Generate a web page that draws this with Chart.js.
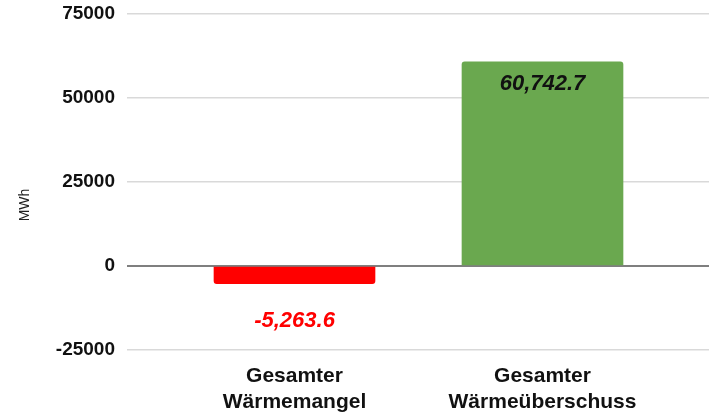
<!DOCTYPE html>
<html lang="de">
<head>
<meta charset="utf-8">
<title>Wärmebilanz</title>
<script src="https://cdn.jsdelivr.net/npm/chart.js@4/dist/chart.umd.min.js"></script>
<style>
    html, body { margin: 0; padding: 0; background: #ffffff; }
    #chart { display: block; }
</style>
</head>
<body>
<canvas id="chart" width="709" height="416"></canvas>
<script>
// Kategorien (zweizeilige Beschriftung)
const categories = [
    ['Gesamter', 'Wärmemangel'],
    ['Gesamter', 'Wärmeüberschuss']
];
// Werte in MWh
const values = [-5263.6, 60742.7];
const valueLabels = ['-5,263.6', '60,742.7'];
const barColors = ['#ff0000', '#6aa84f'];
const labelColors = ['#ff0000', '#111111'];
// Y-Achse
const yTicks = [-25000, 0, 25000, 50000, 75000];
const yTitle = 'MWh';

const FONT = '"Liberation Sans", Arial, sans-serif';

/**
 * Wertebeschriftung an den Balken
 */
const valueLabelPlugin = {
    id: 'valueLabels',
    afterDatasetsDraw(chart) {
        const ctx = chart.ctx;
        const meta = chart.getDatasetMeta(0);
        ctx.save();
        ctx.font = 'italic bold 22px ' + FONT;
        ctx.textAlign = 'center';
        ctx.textBaseline = 'middle';
        meta.data.forEach((bar, i) => {
            const offset = values[i] >= 0 ? 22 : 37;
            ctx.fillStyle = labelColors[i];
            ctx.fillText(valueLabels[i], bar.x, bar.y + offset);
        });
        ctx.restore();
    }
};

/**
 * Achsentitel links (MWh)
 */
const axisTitlePlugin = {
    id: 'axisTitle',
    afterDraw(chart) {
        const ctx = chart.ctx;
        ctx.save();
        ctx.translate(25, 205);
        ctx.rotate(-Math.PI / 2);
        ctx.font = '14px ' + FONT;
        ctx.fillStyle = '#222222';
        ctx.textAlign = 'center';
        ctx.textBaseline = 'middle';
        ctx.fillText(yTitle, 0, 0);
        ctx.restore();
    }
};

new Chart(document.getElementById('chart'), {
    type: 'bar',
    data: {
        datasets: [{
            data: values.map((v, i) => ({ x: i + 1, y: v })),
            backgroundColor: barColors,
            borderRadius: 3,
            barThickness: 161
        }]
    },
    options: {
        responsive: false,
        animation: false,
        layout: { padding: { top: 14, right: 0, bottom: 0, left: 0 } },
        plugins: {
            legend: { display: false },
            tooltip: { enabled: false }
        },
        scales: {
            x: {
                type: 'linear',
                offset: false,
                min: 0.3246,
                max: 2.6714,
                afterBuildTicks: (axis) => {
                    axis.ticks = categories.map((c, i) => ({ value: i + 1 }));
                },
                afterFit: (axis) => { axis.height = 66; },
                grid: { display: false, drawTicks: false, offset: false },
                border: { display: false },
                ticks: {
                    autoSkip: false,
                    maxRotation: 0,
                    padding: 13,
                    color: '#111111',
                    font: { family: FONT, size: 21, weight: 'bold', lineHeight: 1.25 },
                    callback: (value) => categories[value - 1] || ''
                }
            },
            y: {
                min: yTicks[0],
                max: yTicks[yTicks.length - 1],
                afterBuildTicks: (axis) => {
                    axis.ticks = yTicks.map(v => ({ value: v }));
                },
                afterFit: (axis) => {
                    axis.width = 127;
                    axis.paddingTop = 0;
                    axis.paddingBottom = 0;
                },
                border: { display: false },
                grid: {
                    drawTicks: false,
                    color: (ctx) => ctx.tick && ctx.tick.value === 0 ? '#7f7f7f' : '#d9d9d9',
                    lineWidth: (ctx) => ctx.tick && ctx.tick.value === 0 ? 2 : 1.5
                },
                ticks: {
                    padding: 12,
                    color: '#111111',
                    font: { family: FONT, size: 19, weight: 'bold' },
                    callback: (value) => String(value)
                }
            }
        }
    },
    plugins: [valueLabelPlugin, axisTitlePlugin]
});
</script>
</body>
</html>
